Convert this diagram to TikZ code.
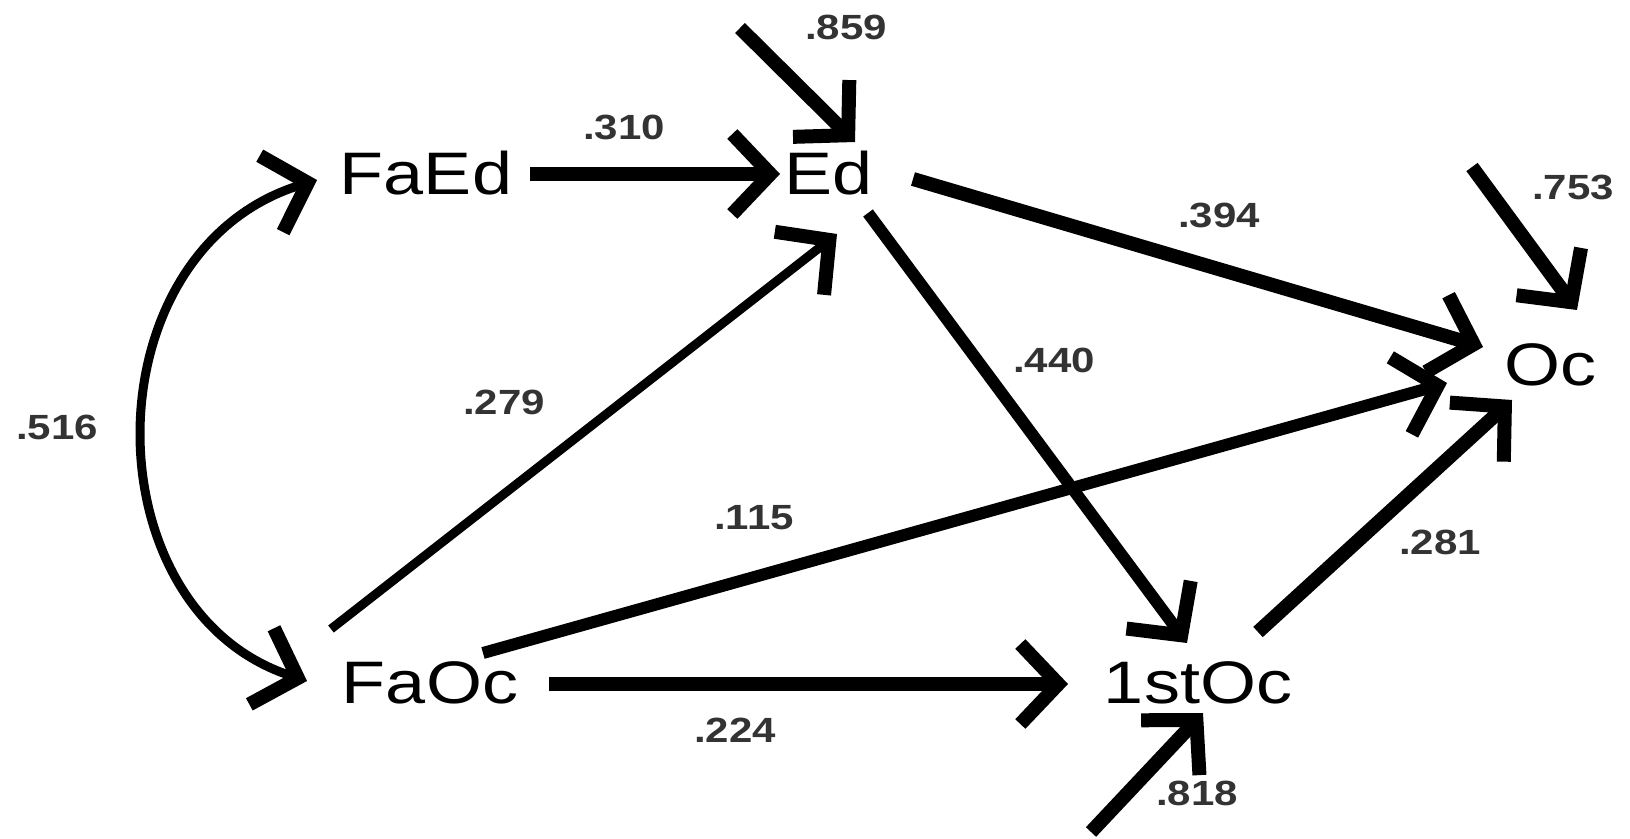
\documentclass[tikz,border=0pt]{standalone}
\usepackage{fontspec}
\usetikzlibrary{arrows.meta}
\newfontfamily\nodef[FakeStretch=1.2]{Liberation Sans}
\newfontfamily\labf[FakeStretch=1.2]{Liberation Sans}
\begin{document}
\begin{tikzpicture}[x=0.5pt,y=-0.5pt,
  >={Straight Barb[length=19pt,width=40pt,line width=7pt]},
  var/.style={inner sep=0pt, font=\nodef\fontsize{30pt}{36pt}\selectfont},
  coef/.style={inner sep=0pt, text=black!80, font=\labf\bfseries\fontsize{17.5pt}{20pt}\selectfont},
  heavy/.style={->, line width=7pt},
  medium/.style={->, line width=6pt},
  light/.style={->, line width=4.5pt}]
\fill[white] (0,0) rectangle (1630,839);
\useasboundingbox (0,0) rectangle (1630,839);
% variables
\node[var] (FaEd) at (426,173) {FaEd};
\node[var] (Ed) at (829,173) {Ed};
\node[var] (Oc) at (1550,365) {Oc};
\node[var] (FaOc) at (430,683) {FaOc};
\node[var] (first) at (1198,683) {1stOc};
% error sources
\coordinate (eEd) at (740,28);
\coordinate (eOc) at (1472,167);
\coordinate (eFirst) at (1091,832);
% paths
\draw[heavy] ([shift={(104,1)}]FaEd.center) -- ([shift={(-49,1)}]Ed.center);
\draw[heavy] (eEd) -- ([shift={(26,-31)}]Ed.center);
\draw[light] ([shift={(-99,-54)}]FaOc.center) -- ([shift={(8,61)}]Ed.center);
\draw[heavy] ([shift={(84,6)}]Ed.center) -- ([shift={(-67,-18)}]Oc.center);
\draw[medium] ([shift={(39,40)}]Ed.center) -- ([shift={(-11,-40)}]first.center);
\draw[medium] ([shift={(53,-30)}]FaOc.center) -- ([shift={(-103,18)}]Oc.center);
\draw[heavy] ([shift={(119,1)}]FaOc.center) -- ([shift={(-130,1)}]first.center);
\draw[heavy] ([shift={(60,-51)}]first.center) -- ([shift={(-38,35)}]Oc.center);
\draw[heavy] (eOc) -- ([shift={(27,-55)}]Oc.center);
\draw[heavy] (eFirst) -- ([shift={(5,30)}]first.center);
\draw[<->, line width=4.5pt] ([shift={(-109,7)}]FaEd.center) .. controls (88,250) and (88,610) .. ([shift={(-123,-2)}]FaOc.center);
% coefficients
\node[coef] (c859) at (846,27) {.859};
\node[coef] (c310) at (624,127) {.310};
\node[coef] (c516) at (57,427) {.516};
\node[coef] (c394) at (1219,215) {.394};
\node[coef] (c753) at (1573,187) {.753};
\node[coef] (c440) at (1054,360) {.440};
\node[coef] (c279) at (504,402) {.279};
\node[coef] (c115) at (754,518) {.115};
\node[coef] (c281) at (1440,542) {.281};
\node[coef] (c224) at (735,730) {.224};
\node[coef] (c818) at (1197,793) {.818};
\end{tikzpicture}
\end{document}
